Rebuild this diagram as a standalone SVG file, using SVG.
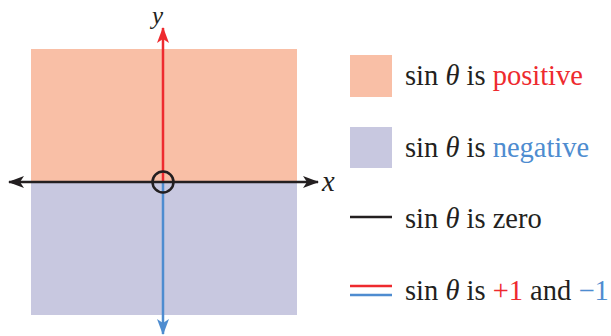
<svg xmlns="http://www.w3.org/2000/svg" width="611" height="336" viewBox="0 0 611 336">
<style>
text,tspan{font-family:"Liberation Serif","Times New Roman",serif}
.t{font-size:28.5px;fill:#231f20}
.i{font-style:italic}
.r{fill:#ee2a2e}
.b{fill:#4e8cd0}
</style>
<defs>
<marker id="ak" viewBox="0 0 16 12" refX="15" refY="6" markerWidth="16" markerHeight="12" markerUnits="userSpaceOnUse" orient="auto">
<path d="M0,0 L16,6 L0,12 L4,6 Z" fill="#231f20"/>
</marker>
<marker id="ar" viewBox="0 0 16 12" refX="15" refY="6" markerWidth="16" markerHeight="12" markerUnits="userSpaceOnUse" orient="auto">
<path d="M0,0 L16,6 L0,12 L4,6 Z" fill="#ee2a2e"/>
</marker>
<marker id="ab" viewBox="0 0 16 12" refX="15" refY="6" markerWidth="16" markerHeight="12" markerUnits="userSpaceOnUse" orient="auto">
<path d="M0,0 L16,6 L0,12 L4,6 Z" fill="#4e8cd0"/>
</marker>
</defs>
<g id="regions">
<rect x="31" y="49" width="266" height="133" fill="#f9bfa6"/>
<rect x="31" y="182" width="266" height="133" fill="#c8c8e0"/>
</g>
<g id="connectors">
<line x1="163" y1="182" x2="163" y2="28" stroke="#ee2a2e" stroke-width="2.5" marker-end="url(#ar)"/>
<line x1="163" y1="182" x2="163" y2="334" stroke="#4e8cd0" stroke-width="2.5" marker-end="url(#ab)"/>
<line x1="20" y1="182" x2="9" y2="182" stroke="#231f20" stroke-width="2.5" marker-end="url(#ak)"/>
<line x1="12" y1="182" x2="318" y2="182" stroke="#231f20" stroke-width="2.5" marker-end="url(#ak)"/>
<circle cx="163" cy="182" r="10.5" fill="none" stroke="#231f20" stroke-width="2.5"/>
</g>
<g id="labels">
<text class="t i" x="152" y="24" style="font-size:25px">y</text>
<text class="t i" x="322" y="191">x</text>
</g>
<g id="legend-positive">
<rect x="350" y="55" width="42" height="42" fill="#f9bfa6"/>
<text class="t" x="405" y="85">sin <tspan class="i">θ</tspan> is <tspan class="r">positive</tspan></text>
</g>
<g id="legend-negative">
<rect x="350" y="127" width="42" height="41" fill="#c8c8e0"/>
<text class="t" x="405" y="157">sin <tspan class="i">θ</tspan> is <tspan class="b">negative</tspan></text>
</g>
<g id="legend-zero">
<line x1="350" y1="217" x2="392" y2="217" stroke="#231f20" stroke-width="2.5"/>
<text class="t" x="405" y="228">sin <tspan class="i">θ</tspan> is zero</text>
</g>
<g id="legend-extreme">
<line x1="350" y1="286" x2="392" y2="286" stroke="#ee2a2e" stroke-width="2.5"/>
<line x1="350" y1="295" x2="392" y2="295" stroke="#4e8cd0" stroke-width="2.5"/>
<text class="t" x="405" y="300">sin <tspan class="i">θ</tspan> is <tspan class="r">+1</tspan> and <tspan class="b">−1</tspan></text>
</g>
</svg>
